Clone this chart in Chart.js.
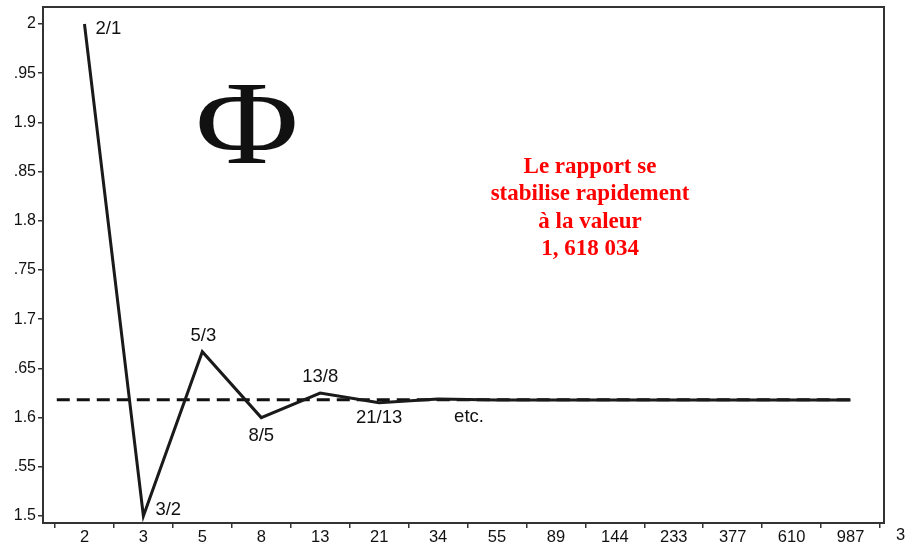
<!DOCTYPE html>
<html>
<head>
<meta charset="utf-8">
<script src="https://cdn.jsdelivr.net/npm/chart.js@4/dist/chart.umd.min.js"></script>
<style>
  html, body { margin:0; padding:0; background:#fff; }
  #wrap { width:907px; height:544px; }
</style>
</head>
<body>
<div id="wrap"><canvas id="phiChart"></canvas></div>
<script>
let categories = ['2','3','5','8','13','21','34','55','89','144','233','377','610','987'];
let ratios = [2, 1.5, 1.667, 1.6, 1.625, 1.615, 1.619, 1.618, 1.618, 1.618, 1.618, 1.618, 1.618, 1.618];
let pointLabels = ['2/1','3/2','5/3','8/5','13/8','21/13','etc.'];
let yTickValues = [1.5,1.55,1.6,1.65,1.7,1.75,1.8,1.85,1.9,1.95,2];
let yTickLabels = ['1.5','.55','1.6','.65','1.7','.75','1.8','.85','1.9','.95','2'];
let phiValue = 1.618034;
let phiLineStart = -0.47;
let phiLineEnd = 13.03;
let noteLines = ['Le rapport se','stabilise rapidement','à la valeur','1, 618 034'];

let ctx = document.getElementById('phiChart');

// where each fraction label sits around its point (dx, dy, align)
let labelPlaces = [
  [0, 11, 5, 'left'],
  [1, 12, -6, 'left'],
  [2, 1, -16, 'center'],
  [3, 0, 18, 'center'],
  [4, 0, -16, 'center'],
  [5, 0, 15, 'center'],
  [6, 31, 18, 'center']
];

let extras = {
  id: 'extras',
  afterDraw(chart) {
    let c = chart.ctx;
    let xs = chart.scales.x;
    let ys = chart.scales.y;
    let area = chart.chartArea;
    c.save();
    // frame
    c.strokeStyle = '#333';
    c.lineWidth = 2;
    c.strokeRect(area.left, area.top, area.right - area.left, area.bottom - area.top);

    // fraction labels
    c.fillStyle = '#111';
    c.font = '18.5px "Liberation Sans", Arial, sans-serif';
    c.textBaseline = 'middle';
    for (let i = 0; i < labelPlaces.length; i++) {
      let p = labelPlaces[i];
      let px = xs.getPixelForValue(p[0]);
      let py = ys.getPixelForValue(ratios[p[0]]);
      c.textAlign = p[3];
      c.fillText(pointLabels[i], px + p[1], py + p[2]);
    }

    // big phi, a bit wider than the font gives
    c.save();
    c.translate(247, 163);
    c.scale(1.2, 1);
    c.font = '118px "Liberation Serif", "DejaVu Serif", serif';
    c.textAlign = 'center';
    c.textBaseline = 'alphabetic';
    c.fillText('Φ', 0, 0);
    c.restore();

    // red note
    c.fillStyle = '#ff0000';
    c.font = 'bold 23px "Liberation Serif", "Times New Roman", serif';
    c.textAlign = 'center';
    c.textBaseline = 'middle';
    for (let i = 0; i < noteLines.length; i++) {
      c.fillText(noteLines[i], 590, 167 + i * 27.5);
    }

    // cut off label at the right edge
    c.fillStyle = '#111';
    c.font = '16.5px "Liberation Sans", Arial, sans-serif';
    c.textAlign = 'left';
    c.fillText('3', 896, 535);
    c.restore();
  }
};

let data = {
  datasets: [{
    label: 'Phi',
    data: [{x: phiLineStart, y: phiValue}, {x: phiLineEnd, y: phiValue}],
    borderColor: '#111',
    borderWidth: 3,
    borderDash: [13, 7],
    pointRadius: 0,
    order: 2
  }, {
    label: 'Rapport',
    data: ratios.map((v, i) => ({x: i, y: v})),
    borderColor: '#1a1a1a',
    borderWidth: 3,
    pointRadius: 0,
    tension: 0,
    order: 1
  }]
};

let config = {
  type: 'line',
  data: data,
  plugins: [extras],
  options: {
    responsive: false,
    animation: false,
    layout: { padding: { top: 7, right: 23, left: 0, bottom: 0 } },
    plugins: { legend: { display: false }, tooltip: { enabled: false } },
    scales: {
      x: {
        type: 'linear',
        min: -0.7036,
        max: 13.568,
        afterBuildTicks: (scale) => {
          let t = [];
          for (let i = 0; i <= categories.length; i++) t.push({value: i - 0.5});
          scale.ticks = t;
        },
        afterFit: (scale) => {
          scale.height = 21;
          scale.paddingLeft = 0;
          scale.paddingRight = 0;
        },
        grid: { drawOnChartArea: false, drawTicks: true, tickLength: 5, color: '#333', lineWidth: 1.5 },
        border: { display: true, color: '#333', width: 2 },
        ticks: {
          autoSkip: false,
          maxRotation: 0,
          padding: 0,
          labelOffset: 29.5,
          color: '#111',
          font: { family: '"Liberation Sans", Arial, sans-serif', size: 16.5 },
          callback: (v, i) => categories[i] || ''
        }
      },
      y: {
        min: 1.49289,
        max: 2.01728,
        afterBuildTicks: (scale) => {
          scale.ticks = yTickValues.map(v => ({value: v}));
        },
        afterFit: (scale) => {
          scale.width = 43;
          scale.paddingTop = 0;
          scale.paddingBottom = 0;
        },
        grid: { drawOnChartArea: false, drawTicks: true, tickLength: 5, color: '#333', lineWidth: 1.5 },
        border: { display: true, color: '#333', width: 2 },
        ticks: {
          autoSkip: false,
          padding: 2,
          color: '#111',
          font: { family: '"Liberation Sans", Arial, sans-serif', size: 16 },
          callback: (v, i) => yTickLabels[i]
        }
      }
    }
  }
};

ctx.width = 907;
ctx.height = 544;
let dataChart = new Chart(ctx, config);
</script>
</body>
</html>
